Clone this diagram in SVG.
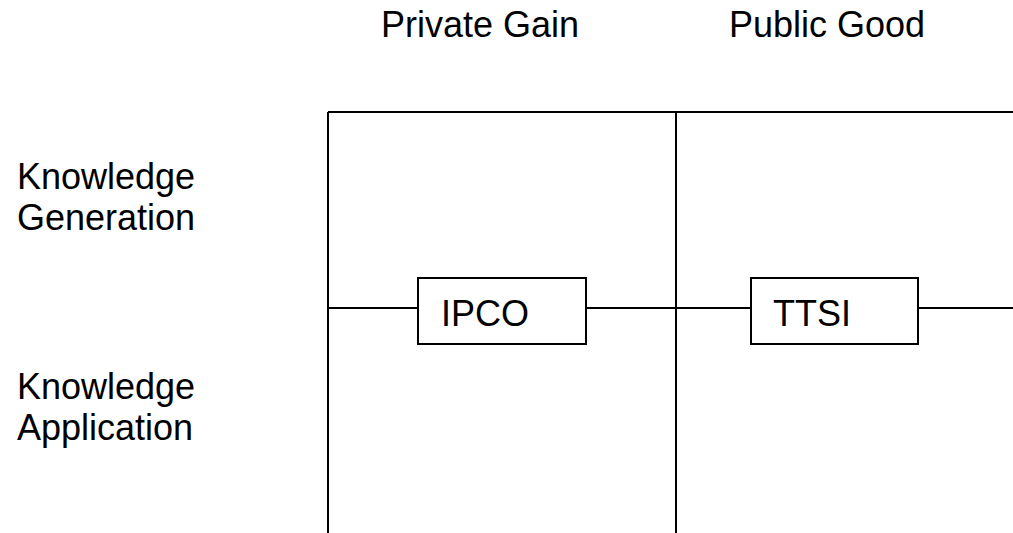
<svg xmlns="http://www.w3.org/2000/svg" width="1013" height="533" viewBox="0 0 1013 533">
  <style>
    .ln { stroke: #000; stroke-width: 2; fill: none; }
    .box { stroke: #000; stroke-width: 2; fill: #fff; }
    .t { font-family: "Liberation Sans", Arial, sans-serif; font-size: 36px; fill: #000; }
  </style>
  <rect width="1013" height="533" fill="#fff"/>

  <!-- axis labels -->
  <g id="labels">
    <text class="t" x="381" y="37">Private Gain</text>
    <text class="t" x="729" y="37">Public Good</text>
    <text class="t" x="17" y="189">Knowledge</text>
    <text class="t" x="17" y="230">Generation</text>
    <text class="t" x="17" y="399">Knowledge</text>
    <text class="t" x="17" y="440">Application</text>
  </g>

  <!-- grid and connectors -->
  <g id="connectors">
    <path class="ln" d="M328 112 H1013 M328 112 V533 M676 112 V533"/>
    <path class="ln" d="M328 308 H418 M586 308 H751 M918 308 H1013"/>
  </g>

  <g id="ipco">
    <rect class="box" x="418" y="278" width="168" height="66"/>
    <text class="t" x="441" y="326">IPCO</text>
  </g>
  <g id="ttsi">
    <rect class="box" x="751" y="278" width="167" height="66"/>
    <text class="t" x="773" y="326">TTSI</text>
  </g>
</svg>
